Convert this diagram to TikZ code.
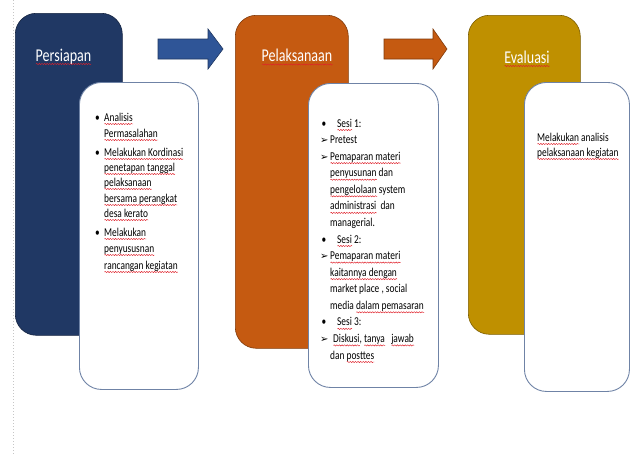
\documentclass[tikz,border=0pt]{standalone}
\usepackage{fontspec}
\setmainfont[FakeStretch=0.78]{Carlito}
\newfontfamily\dejavu{DejaVu Sans}
\usetikzlibrary{decorations.pathmorphing}
\definecolor{cPers}{HTML}{203864}
\definecolor{cArrB}{HTML}{2F5597}
\definecolor{cOra}{HTML}{C55A11}
\definecolor{cGold}{HTML}{BF9000}
\definecolor{cEdge}{HTML}{6F83A6}
\definecolor{cSpell}{HTML}{E0202A}
\newcommand{\arr}{{\dejavu\fontsize{10}{12}\selectfont ➢}}
\newsavebox\sqbox
\newcommand{\sq}[1]{\sbox\sqbox{#1}\rlap{\tikz[baseline=0pt,x=1pt,y=1pt]{\draw[cSpell,line width=0.45pt,decorate,decoration={snake,amplitude=0.6pt,segment length=2.6pt}] (0,-3) -- (\the\wd\sqbox,-3);}}\usebox\sqbox}
\begin{document}
\begin{tikzpicture}[x=1pt,y=-1pt,
  phase/.style={rectangle, rounded corners=21pt, anchor=north west, inner sep=0pt,
    draw=#1!65!black, fill=#1, line width=0.6pt},
  detail/.style={rectangle, rounded corners=22pt, anchor=north west, inner sep=0pt,
    draw=cEdge, fill=white, line width=0.9pt},
  title/.style={anchor=base, text=white, inner sep=0pt, font=\fontsize{18}{20}\selectfont},
  body/.style={anchor=base west, inner sep=0pt, font=\fontsize{12}{14}\selectfont},
  flow/.style={draw=#1!65!black, fill=#1, line width=0.6pt}
]
\useasboundingbox (0,0) rectangle (630,455);
\fill[white] (0,0) rectangle (630,455);
\draw[gray!45, dotted, line width=1pt] (13,0) -- (13,455);

% arrows
\filldraw[flow=cArrB] (158,39) -- (208,39) -- (208,29) -- (223,49) -- (208,69) -- (208,59) -- (158,59) -- cycle;
\filldraw[flow=cOra] (384,39) -- (433,39) -- (433,29) -- (447,49) -- (433,69) -- (433,59) -- (384,59) -- cycle;

% phase boxes
\node[phase=cPers, minimum width=107pt, minimum height=322pt] (pers) at (15,13) {};
\node[phase=cOra, minimum width=113pt, minimum height=333pt] (pela) at (235,15) {};
\node[phase=cGold, minimum width=112pt, minimum height=319pt] (eval) at (468,15) {};

\node[title] (tpers) at (63.5,61) {\sq{Persiapan}};
\node[title] (tpela) at (297,61.5) {\sq{Pelaksanaan}};
\node[title] (teval) at (527,63) {\sq{Evaluasi}};

% detail boxes
\node[detail, minimum width=119pt, minimum height=307pt] (w1) at (79,82) {};
\node[detail, minimum width=130pt, minimum height=304pt] (w2) at (308,83) {};
\node[detail, minimum width=105pt, minimum height=309pt] (w3) at (524,82) {};

% box 1 text
\node[body] (b1a) at (95,121) {•};
\node[body] (b1b) at (95,156) {•};
\node[body] (b1c) at (95,236) {•};
\node[body] (l1a) at (104,121) {\sq{Analisis}};
\node[body] (l1b) at (104,137) {\sq{Permasalahan}};
\node[body] (l1c) at (104,156) {\sq{Melakukan Kordinasi}};
\node[body] (l1d) at (104,171) {\sq{penetapan tanggal}};
\node[body] (l1e) at (104,186) {\sq{pelaksanaan}};
\node[body] (l1f) at (104,202) {\sq{bersama perangkat}};
\node[body] (l1g) at (104,217) {\sq{desa kerato}};
\node[body] (l1h) at (104,236) {\sq{Melakukan}};
\node[body] (l1i) at (104,252) {\sq{penyususnan}};
\node[body] (l1j) at (104,269) {\sq{rancangan kegiatan}};

% box 2 text
\node[body] (b2a) at (321.5,127) {•};
\node[body] (b2b) at (321.5,243) {•};
\node[body] (b2c) at (321.5,325.9) {•};
\node[body] (r2a) at (320,143.6) {\arr};
\node[body] (r2b) at (320,160.1) {\arr};
\node[body] (r2c) at (320,259.6) {\arr};
\node[body] (r2d) at (320,342.4) {\arr};
\node[body] (l2a) at (337,127) {\sq{Sesi} 1:};
\node[body] (l2b) at (330,143.6) {Pretest};
\node[body] (l2c) at (330,160.1) {\sq{Pemaparan materi}};
\node[body] (l2d) at (330,176.7) {\sq{penyusunan} dan};
\node[body] (l2e) at (330,193.3) {\sq{pengelolaan} system};
\node[body] (l2f) at (330,209.9) {\sq{administrasi}\ \ dan};
\node[body] (l2g) at (330,226.4) {managerial.};
\node[body] (l2h) at (337,243) {\sq{Sesi} 2:};
\node[body] (l2i) at (330,259.6) {\sq{Pemaparan materi}};
\node[body] (l2j) at (330,276.1) {\sq{kaitannya dengan}};
\node[body] (l2k) at (330,292.7) {market place , social};
\node[body] (l2l) at (330,309.3) {media \sq{dalam pemasaran}};
\node[body] (l2m) at (337,325.9) {\sq{Sesi} 3:};
\node[body] (l2n) at (333,342.4) {\sq{Diskusi}, \sq{tanya}\ \ \ \sq{jawab}};
\node[body] (l2o) at (330,359) {dan \sq{posttes}};

% box 3 text
\node[body] (l3a) at (537,141) {\sq{Melakukan} analisis};
\node[body] (l3b) at (537,156) {\sq{pelaksanaan kegiatan}};
\end{tikzpicture}
\end{document}
